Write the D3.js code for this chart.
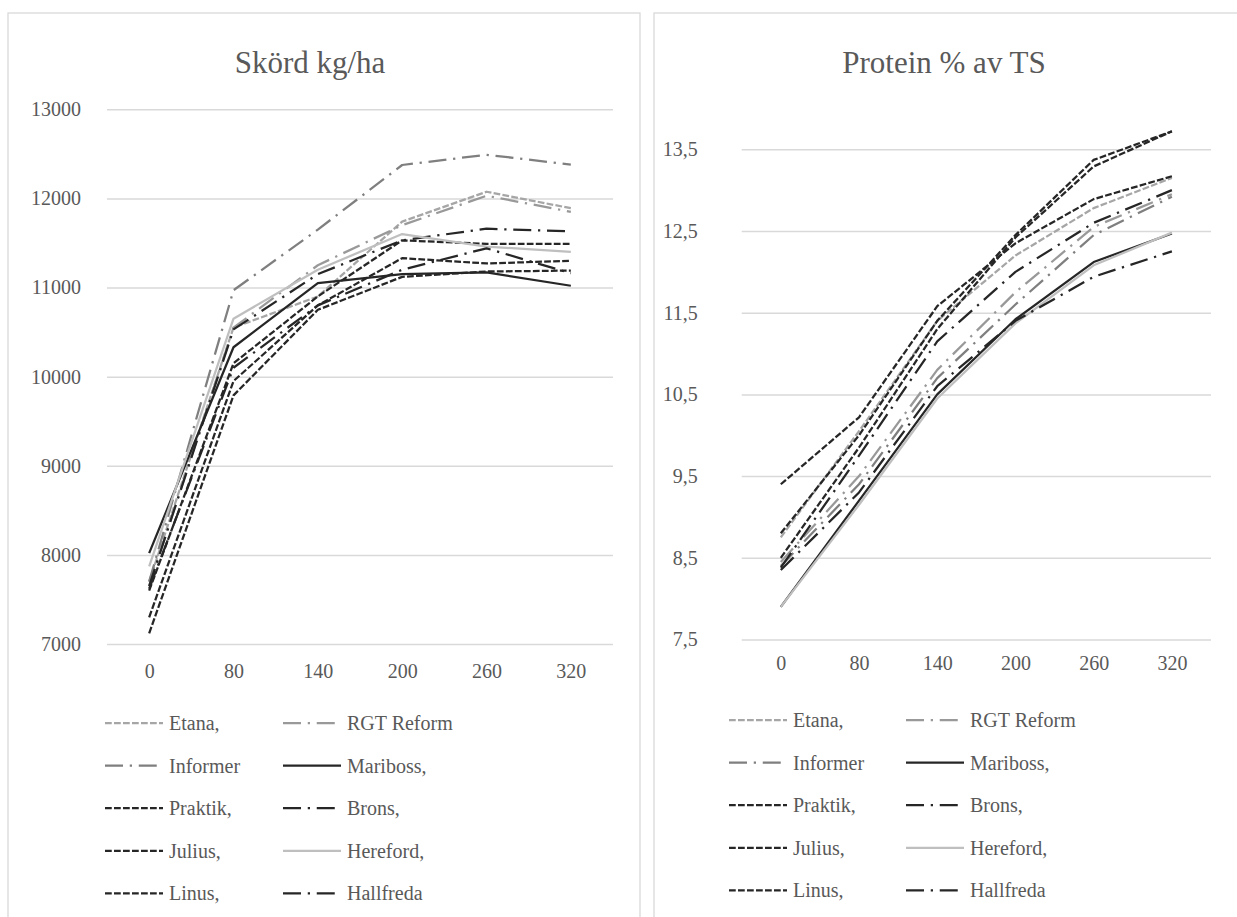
<!DOCTYPE html>
<html>
<head>
<meta charset="utf-8">
<script src="https://cdn.jsdelivr.net/npm/d3@7"></script>
<style>
  body { margin: 0; background: #fff; }
  text { font-family: "Liberation Serif", "Times New Roman", serif; fill: #595959; }
</style>
</head>
<body>
<svg id="chart" width="1237" height="917"></svg>
<script>
// data

const doses = ["0", "80", "140", "200", "260", "320"];

const varieties = ["Etana,", "RGT Reform", "Informer", "Mariboss,", "Praktik,",
  "Brons,", "Julius,", "Hereford,", "Linus,", "Hallfreda"];

// Skörd kg/ha, one row per variety (same order as varieties)
const skordValues = [
  [7700, 10550, 10900, 11740, 12075, 11890],  // Etana
  [7650, 10550, 11250, 11700, 12030, 11850],  // RGT Reform
  [7700, 10970, 11650, 12375, 12490, 12380],  // Informer
  [8020, 10330, 11050, 11150, 11170, 11020],  // Mariboss
  [7600, 10150, 10900, 11530, 11490, 11490],  // Praktik
  [7650, 10530, 11150, 11530, 11660, 11630],  // Brons
  [7300, 9950, 10800, 11330, 11270, 11300],   // Julius
  [7870, 10650, 11200, 11600, 11460, 11400],  // Hereford
  [7120, 9790, 10750, 11120, 11180, 11190],   // Linus
  [7620, 10100, 10800, 11200, 11440, 11160]   // Hallfreda
];

// Protein % av TS
const proteinValues = [
  [8.75, 10.05, 11.4, 12.2, 12.78, 13.15],   // Etana
  [8.45, 9.5, 10.8, 11.75, 12.55, 12.95],    // RGT Reform
  [8.4, 9.4, 10.7, 11.6, 12.45, 12.92],      // Informer
  [7.9, 9.2, 10.5, 11.42, 12.12, 12.47],     // Mariboss
  [8.8, 10.0, 11.4, 12.45, 13.37, 13.72],    // Praktik
  [8.38, 9.75, 11.15, 12.0, 12.6, 13.0],     // Brons
  [8.5, 9.85, 11.3, 12.42, 13.29, 13.72],    // Julius
  [7.9, 9.15, 10.45, 11.37, 12.08, 12.48],   // Hereford
  [9.4, 10.22, 11.58, 12.35, 12.89, 13.17],  // Linus
  [8.35, 9.3, 10.6, 11.4, 11.94, 12.25]      // Hallfreda
];

const skordTicks = [7000, 8000, 9000, 10000, 11000, 12000, 13000];
const proteinTicks = [7.5, 8.5, 9.5, 10.5, 11.5, 12.5, 13.5];

// line styles per variety
const dash = "6.75,2.25";
const dashDot = "18,6.75,2.25,6.75";
const styles = [
  { color: "#a6a6a6", dash: dash },
  { color: "#999999", dash: dashDot },
  { color: "#7f7f7f", dash: dashDot },
  { color: "#262626", dash: null },
  { color: "#262626", dash: dash },
  { color: "#262626", dash: dashDot },
  { color: "#262626", dash: dash },
  { color: "#bfbfbf", dash: null },
  { color: "#262626", dash: dash },
  { color: "#262626", dash: dashDot }
];

const font = "'Liberation Serif', 'Times New Roman', serif";
const svg = d3.select("#chart");

function drawPanel(opts) {
  const g = svg.append("g");

  // panel border
  g.append("rect")
    .attr("x", opts.box[0]).attr("y", opts.box[1])
    .attr("width", opts.box[2]).attr("height", opts.box[3])
    .attr("fill", "#fff").attr("stroke", "#d9d9d9").attr("stroke-width", 1.3);

  g.append("text")
    .attr("x", opts.titleX).attr("y", 73)
    .attr("text-anchor", "middle")
    .attr("font-family", font)
    .style("font-size", "31px")
    .text(opts.title);

  const x = d3.scalePoint()
    .domain(doses)
    .range([opts.left, opts.right])
    .padding(0.5);

  const y = d3.scaleLinear()
    .domain(opts.domain)
    .range([opts.bottom, opts.top]);

  // gridlines + y labels
  const yAxis = g.append("g")
    .attr("transform", "translate(" + opts.left + ",0)")
    .call(d3.axisLeft(y).tickValues(opts.ticks)
      .tickSize(-(opts.right - opts.left)).tickPadding(opts.labelPad)
      .tickFormat(opts.fmt))
    .attr("font-family", font);
  yAxis.select(".domain").remove();
  yAxis.selectAll("line").attr("stroke", "#d9d9d9").attr("stroke-width", 1.5);
  yAxis.selectAll("text").style("font-size", "20px").attr("fill", "#595959");

  // x labels
  const xAxis = g.append("g")
    .attr("transform", "translate(0," + opts.bottom + ")")
    .call(d3.axisBottom(x).tickSize(0).tickPadding(opts.xPad))
    .attr("font-family", font);
  xAxis.select(".domain").remove();
  xAxis.selectAll("text").style("font-size", "20px").attr("fill", "#595959");

  const line = d3.line()
    .x((d, i) => x(doses[i]))
    .y(d => y(d));

  g.selectAll(".series")
    .data(opts.values)
    .enter()
    .append("path")
    .attr("d", d => line(d))
    .attr("fill", "none")
    .attr("stroke", (d, i) => styles[i].color)
    .attr("stroke-width", 2.25)
    .attr("stroke-dasharray", (d, i) => styles[i].dash)
    .attr("stroke-linejoin", "round");

  // legend, two columns
  const leg = g.selectAll(".leg")
    .data(varieties)
    .enter()
    .append("g")
    .attr("transform", (d, i) => "translate(" + opts.legX[i % 2] + "," + (opts.legY + Math.floor(i / 2) * 42.6) + ")");

  leg.append("line")
    .attr("x1", 0).attr("x2", 58)
    .attr("stroke", (d, i) => styles[i].color)
    .attr("stroke-width", 2.25)
    .attr("stroke-dasharray", (d, i) => styles[i].dash);

  leg.append("text")
    .attr("x", 64).attr("dy", "0.35em")
    .attr("font-family", font)
    .style("font-size", "20px")
    .text(d => d);
}

drawPanel({
  box: [8, 13, 632, 930],
  title: "Skörd kg/ha",
  titleX: 310,
  left: 107, right: 613, top: 109.3, bottom: 644,
  domain: [7000, 13000],
  ticks: skordTicks,
  fmt: d3.format("d"),
  labelPad: 26,
  xPad: 20,
  values: skordValues,
  legX: [105, 283],
  legY: 723
});

drawPanel({
  box: [654, 13, 600, 930],
  title: "Protein % av TS",
  titleX: 944,
  left: 741.7, right: 1211, top: 149.3, bottom: 639.5,
  domain: [7.5, 13.5],
  ticks: proteinTicks,
  fmt: d => String(d).replace(".", ","),
  labelPad: 44,
  xPad: 16,
  values: proteinValues,
  legX: [729, 906],
  legY: 720
});
</script>
</body>
</html>
